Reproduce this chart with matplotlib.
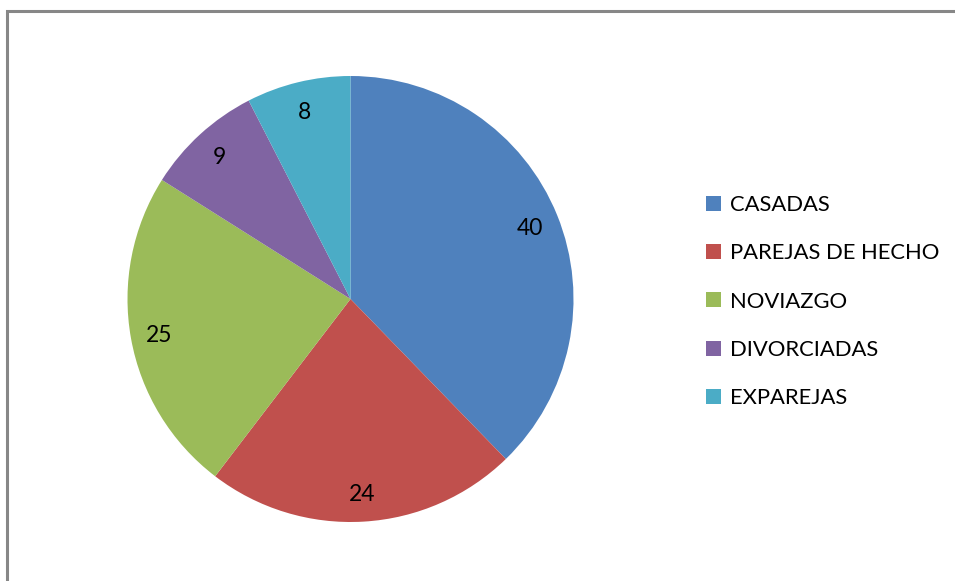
import matplotlib
matplotlib.use("Agg")
import matplotlib.pyplot as plt
from matplotlib.patches import Rectangle

categories = ["CASADAS", "PAREJAS DE HECHO", "NOVIAZGO", "DIVORCIADAS", "EXPAREJAS"]
values = [40, 24, 25, 9, 8]
colors = ["#4F81BD", "#C0504D", "#9BBB59", "#8064A2", "#4BACC6"]

W, H = 955, 581
fig = plt.figure(figsize=(W / 100, H / 100), dpi=100)
fig.patch.set_facecolor("white")
plt.rcParams["font.family"] = ["Lato", "DejaVu Sans"]

ax = fig.add_axes([0, 0, 1, 1])
ax.set_xlim(0, W)
ax.set_ylim(0, H)
ax.set_aspect("equal")
ax.axis("off")

# outer chart frame (right and bottom edges lie outside the image)
ax.add_patch(Rectangle((7, -20), 1000, H - 11 + 20, fill=False,
                       edgecolor="#878787", linewidth=2.2))

total = sum(values)
wedges, texts, autotexts = ax.pie(
    values, colors=colors, startangle=90, counterclock=False,
    center=(350.5, H - 299), radius=223, pctdistance=0.87,
    autopct=lambda p: f"{p * total / 100:.0f}",
    textprops=dict(fontsize=16.5, color="black"),
    wedgeprops=dict(linewidth=0))
for t in autotexts:
    t.set_va("center_baseline")

ax.set_xlim(0, W)
ax.set_ylim(0, H)

leg = fig.legend(wedges, categories, loc="upper left",
                 bbox_to_anchor=(706 / W, 1 - 195 / H), frameon=False,
                 fontsize=15.8, handlelength=0.68, handleheight=0.68,
                 handletextpad=0.4, labelspacing=1.29, borderpad=0,
                 borderaxespad=0)

fig.savefig("out.png", dpi=100, facecolor="white")
